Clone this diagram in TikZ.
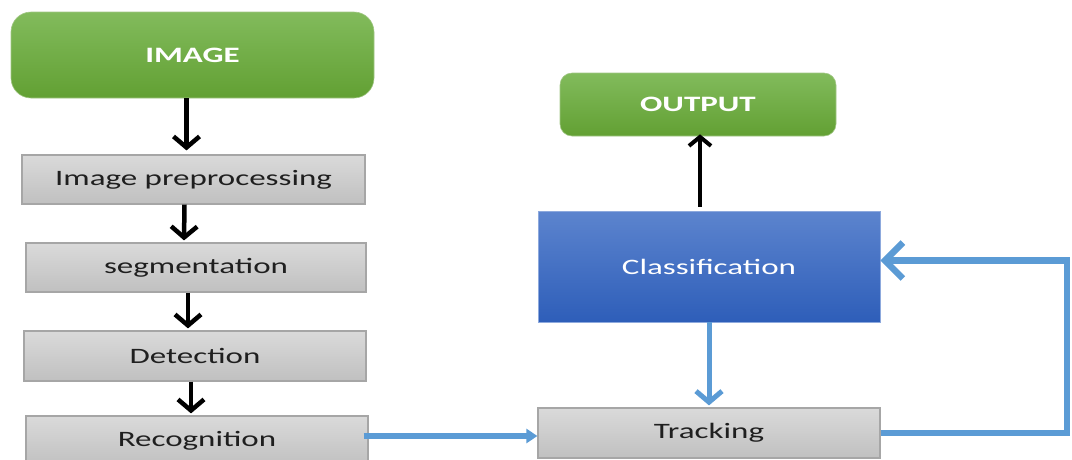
\documentclass[tikz,border=0pt]{standalone}
\usepackage{fontspec}
\setmainfont{Carlito}[FakeStretch=1.5]
\usetikzlibrary{arrows.meta,calc}
\definecolor{gtop}{HTML}{82BB5C}
\definecolor{gbot}{HTML}{62A033}
\definecolor{grtop}{HTML}{DADADA}
\definecolor{grbot}{HTML}{C0C0C0}
\definecolor{grline}{HTML}{A6A6A6}
\definecolor{btop}{HTML}{5C84CE}
\definecolor{bbot}{HTML}{2E5EB9}
\definecolor{arrblue}{HTML}{5B9BD5}
\definecolor{txtdark}{HTML}{1F1F1F}
\tikzset{
  greenbox/.style={draw=gbot!60, line width=0.6pt, top color=gtop, bottom color=gbot, rounded corners=#1, text=white, font=\fontsize{22}{26}\selectfont\bfseries, inner sep=0pt},
  graybox/.style={draw=grline, line width=1.2pt, top color=grtop, bottom color=grbot, text=txtdark, font=\fontsize{22}{26}\selectfont, minimum width=342pt, minimum height=49pt, inner sep=0pt},
  bluebox/.style={draw=btop!70, line width=0.6pt, top color=btop, bottom color=bbot, text=white, font=\fontsize{22}{26}\selectfont, inner sep=0pt},
  blackarrow/.style={draw=black, line width=4.5pt, -{Straight Barb[length=11pt,width=26pt,line width=4.5pt]}},
  bluearrow/.style={draw=arrblue, line width=5pt}
}
\begin{document}
\begin{tikzpicture}[x=1pt,y=-1pt]
\useasboundingbox (0,0) rectangle (1072,459);
\clip (0,0) rectangle (1072,459);
\node[greenbox=20pt, minimum width=363pt, minimum height=86pt] (img) at (192.5,55) {IMAGE};
\node[graybox, minimum width=343pt] (pre) at (193.5,179.5) {Image preprocessing};
\node[graybox, minimum width=340pt] (seg) at (196,267.5) {segmentation};
\node[graybox, minimum height=50pt] (det) at (195,356) {Detection};
\node[graybox, minimum height=50pt] (rec) at (197,441) {\raisebox{-2pt}{Recognition}};
\node[greenbox=12pt, minimum width=276pt, minimum height=63pt] (out) at (698,104.5) {OUTPUT};
\node[bluebox, minimum width=342pt, minimum height=111pt] (cls) at (709,266.5) {Classification};
\node[graybox, minimum height=50pt] (trk) at (709,433) {Tracking};

\draw[blackarrow] ($(img.south)+(-6,0)$) -- ($(pre.north)+(-7,-4)$);
\draw[blackarrow] ($(pre.south)+(-9,0)$) -- ($(seg.north)+(-12,-2)$);
\draw[blackarrow] ($(seg.south)+(-8,0)$) -- ($(det.north)+(-7,-2)$);
\draw[blackarrow] ($(det.south)+(-4,0)$) -- ($(rec.north)+(-6,-2)$);
\draw[blackarrow, line width=4pt, -{Straight Barb[length=9pt,width=22pt,line width=4pt]}] ($(cls.north)+(-9,-4)$) -- ($(out.south)+(2,-2)$);

\draw[bluearrow, line width=5pt, -{Straight Barb[length=11pt,width=26pt,line width=5pt]}] (cls.south) -- ($(trk.north)+(0,-2)$);
\draw[bluearrow, line width=6pt, -{Triangle[length=11pt,width=14pt]}] ($(rec.east)+(-5,-5)$) -- ($(trk.west)+(0,3)$);
\coordinate (loopc) at (1067,432);
\draw[bluearrow, line width=6.5pt, -{Straight Barb[length=18pt,width=36pt,line width=6.5pt]}] (trk.east) -- (trk.east -| loopc) -- ($(cls.east -| loopc)+(0,-6)$) -- ($(cls.east)+(0,-6)$);
\end{tikzpicture}
\end{document}
